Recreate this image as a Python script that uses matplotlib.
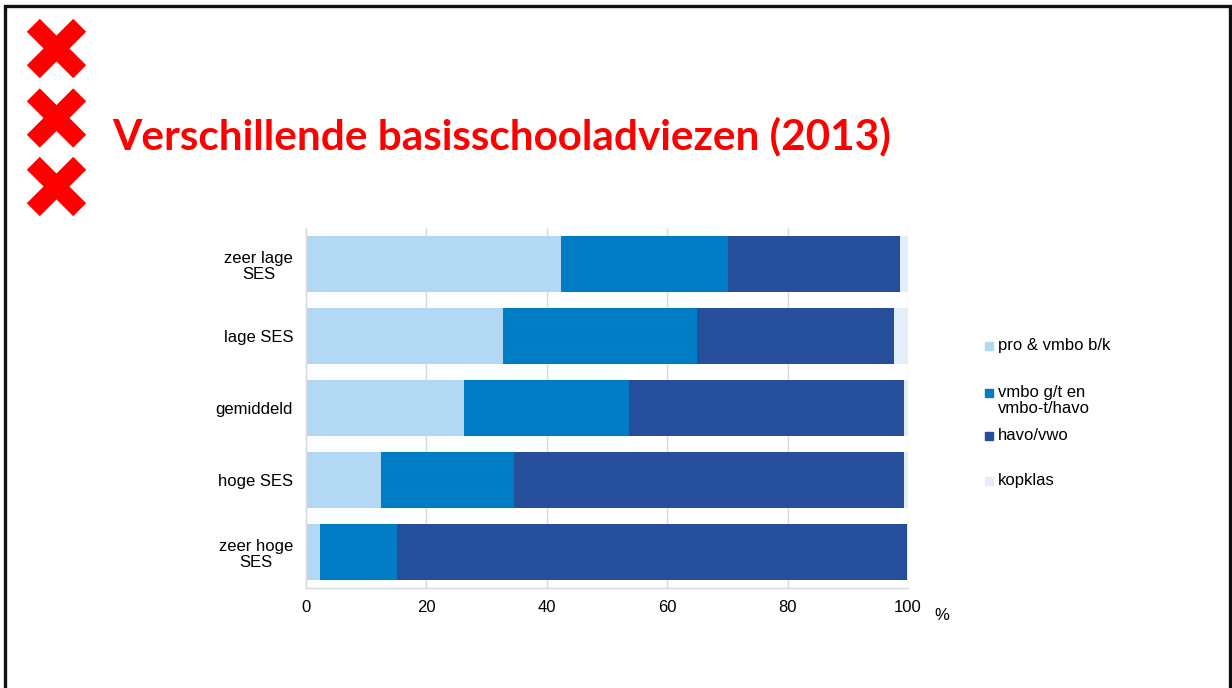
import matplotlib
matplotlib.use("Agg")
import matplotlib.pyplot as plt
from matplotlib.lines import Line2D
from matplotlib.patches import Rectangle
import numpy as np

# Data: share of school advice per SES group (percent)
categories = ["zeer lage\nSES", "lage SES", "gemiddeld", "hoge SES", "zeer hoge\nSES"]
series_names = ["pro & vmbo b/k", "vmbo g/t en\nvmbo-t/havo", "havo/vwo", "kopklas"]
pro_vmbo_bk = [42.4, 32.8, 26.3, 12.5, 2.4]
vmbo_gt_havo = [27.7, 32.2, 27.4, 22.1, 12.8]
havo_vwo = [28.5, 32.6, 45.6, 64.7, 84.6]
kopklas = [1.4, 2.4, 0.7, 0.7, 0.2]
x_ticks = [0, 20, 40, 60, 80, 100]

colors = ["#b3d8f3", "#007dc5", "#264f9b", "#e3eefa"]
FS = 12

W, H = 1232, 688
fig = plt.figure(figsize=(W / 100, H / 100), dpi=100)
fig.patch.set_facecolor("white")

# Overlay in pixel coordinates for decorations
ov = fig.add_axes([0, 0, 1, 1])
ov.set_xlim(0, W)
ov.set_ylim(H, 0)
ov.axis("off")

# Frame (left, top, right)
ov.plot([5, 5, 1230, 1230], [H + 5, 6, 6, H + 5], color="#111111", lw=2.4,
        solid_joinstyle="miter")

# Three red crosses
for cy in [48.5, 118, 186.5]:
    cx, d = 56.5, 23.2
    for sx in (1, -1):
        ov.add_line(Line2D([cx - d, cx + d], [cy - sx * d, cy + sx * d],
                           color="#ff0000", lw=13.2, solid_capstyle="butt"))

# Title
fig.text(112 / W, 1 - 136 / H, "Verschillende basisschooladviezen (2013)",
         color="#ff0000", fontsize=30.4, fontweight="bold", family="Lato",
         va="center", ha="left")

# Bar chart
left, right, top, bottom = 305.5, 908, 228, 588
ax = fig.add_axes([left / W, 1 - bottom / H, (right - left) / W, (bottom - top) / H])
y = np.arange(len(categories))
series = [pro_vmbo_bk, vmbo_gt_havo, havo_vwo, kopklas]
cum = np.zeros(len(categories))
for vals, col, name in zip(series, colors, series_names):
    ax.barh(y, vals, left=cum, height=0.78, color=col, label=name, zorder=2)
    cum += np.array(vals)

ax.set_xlim(0, 100)
ax.set_ylim(len(categories) - 0.5, -0.5)
ax.set_xticks(x_ticks)
ax.set_yticks(y)
ax.set_yticklabels(categories, multialignment="center", family="Liberation Sans",
                   fontsize=FS, linespacing=1.1)
ax.tick_params(axis="both", length=0, colors="black", labelsize=FS)
ax.tick_params(axis="y", pad=9)
ax.tick_params(axis="x", pad=9)
for lab in ax.get_xticklabels():
    lab.set_family("Liberation Sans")
ax.grid(axis="x", color="#d9d9d9", lw=1, zorder=0)
ax.set_axisbelow(True)
for s in ["top", "right"]:
    ax.spines[s].set_visible(False)
for s in ["left", "bottom"]:
    ax.spines[s].set_color("#d9d9d9")
    ax.spines[s].set_linewidth(1)

fig.text(942 / W, 1 - 615 / H, "%", fontsize=FS, family="Liberation Sans",
         ha="center", va="center")

# Legend
legend_y = [346, 393, 436, 481]
for name, col, ly in zip(series_names, colors, legend_y):
    ov.add_patch(Rectangle((985, ly - 4), 8, 8, color=col))
    ov.text(998, ly - 8, name, fontsize=FS, family="Liberation Sans",
            ha="left", va="top", linespacing=1.05)

fig.savefig("out.png", dpi=100)
